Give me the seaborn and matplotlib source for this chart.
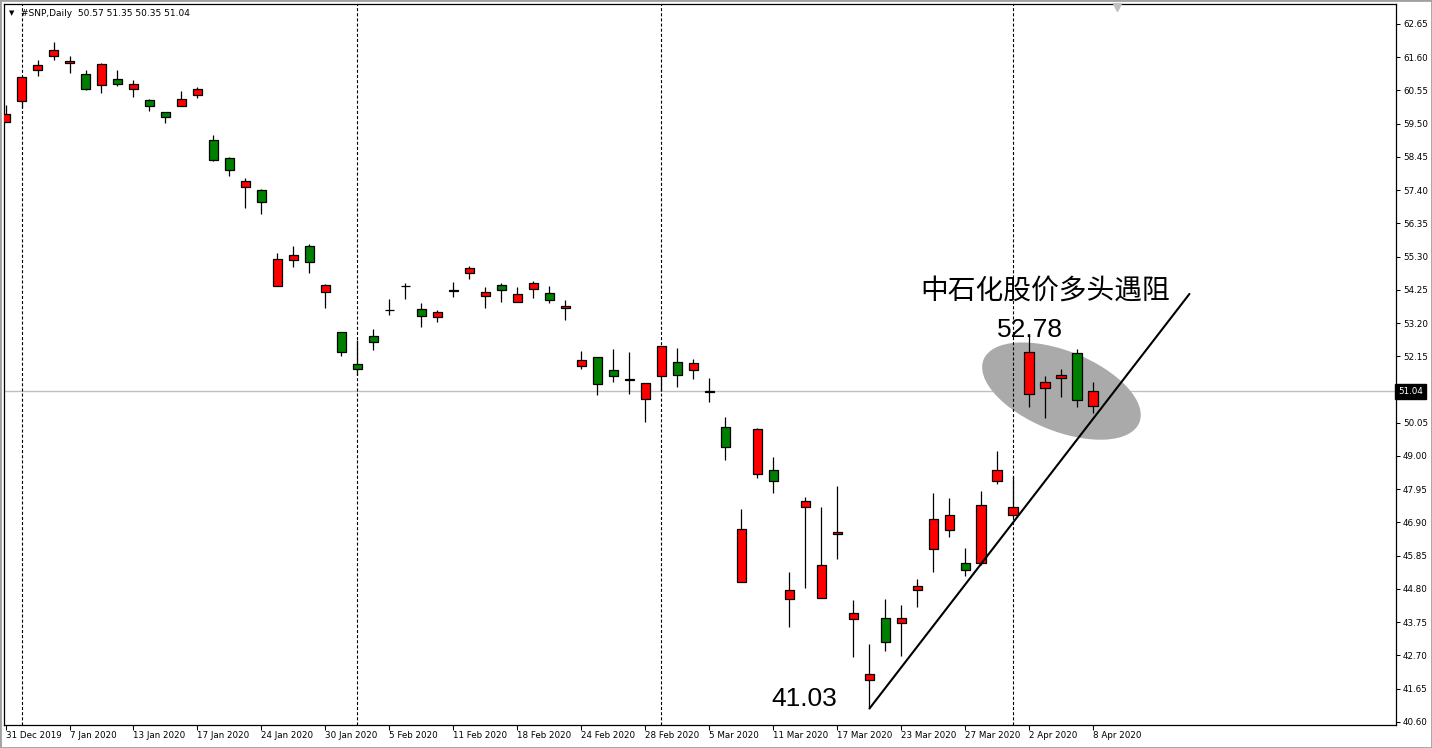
import numpy as np
import pandas as pd
import matplotlib.pyplot as plt
import matplotlib.transforms as mtransforms
from matplotlib.patches import Ellipse, Rectangle
import seaborn as sns

# daily candles for #SNP
dates = ['2019-12-31', '2020-01-02', '2020-01-03', '2020-01-06', '2020-01-07', '2020-01-08',
         '2020-01-09', '2020-01-10', '2020-01-13', '2020-01-14', '2020-01-15', '2020-01-16',
         '2020-01-17', '2020-01-21', '2020-01-22', '2020-01-23', '2020-01-24', '2020-01-27',
         '2020-01-28', '2020-01-29', '2020-01-30', '2020-01-31', '2020-02-03', '2020-02-04',
         '2020-02-05', '2020-02-06', '2020-02-07', '2020-02-10', '2020-02-11', '2020-02-12',
         '2020-02-13', '2020-02-14', '2020-02-18', '2020-02-19', '2020-02-20', '2020-02-21',
         '2020-02-24', '2020-02-25', '2020-02-26', '2020-02-27', '2020-02-28', '2020-03-02',
         '2020-03-03', '2020-03-04', '2020-03-05', '2020-03-06', '2020-03-09', '2020-03-10',
         '2020-03-11', '2020-03-12', '2020-03-13', '2020-03-16', '2020-03-17', '2020-03-18',
         '2020-03-19', '2020-03-20', '2020-03-23', '2020-03-24', '2020-03-25', '2020-03-26',
         '2020-03-27', '2020-03-30', '2020-03-31', '2020-04-01', '2020-04-02', '2020-04-03',
         '2020-04-06', '2020-04-07', '2020-04-08']
opens = [59.54, 60.21, 61.19, 61.63, 61.41, 61.07, 60.73, 60.91, 60.59, 60.25, 59.86, 60.07,
         60.42, 58.98, 58.41, 57.49, 57.40, 54.38, 55.20, 55.63, 54.17, 52.91, 51.90, 52.78,
         53.60, 54.37, 53.63, 53.40, 54.21, 54.77, 54.06, 54.39, 53.86, 54.27, 54.14, 53.68,
         51.83, 52.12, 51.71, 51.44, 50.79, 51.52, 51.96, 51.71, 51.05, 49.90, 45.02, 48.42,
         48.55, 44.47, 47.38, 44.52, 46.55, 43.84, 41.91, 43.87, 43.71, 44.75, 46.05, 46.65,
         45.61, 45.61, 48.20, 47.12, 50.95, 51.16, 51.45, 52.24, 50.57]
highs = [60.08, 60.99, 61.51, 62.08, 61.64, 61.20, 61.41, 61.20, 60.88, 60.28, 59.86, 60.53,
         60.65, 59.14, 58.45, 57.79, 57.42, 55.41, 55.63, 55.70, 54.43, 52.93, 52.66, 53.01,
         53.96, 54.47, 53.82, 53.60, 54.50, 55.00, 54.33, 54.46, 54.33, 54.53, 54.36, 53.92,
         52.31, 52.12, 52.38, 52.28, 51.30, 52.46, 52.41, 52.06, 51.45, 50.23, 47.32, 49.87,
         48.96, 45.32, 47.69, 47.38, 48.05, 44.45, 43.06, 44.48, 44.29, 45.11, 47.83, 47.67,
         46.09, 47.89, 49.16, 48.37, 52.78, 51.53, 51.75, 52.37, 51.35]
lows = [59.54, 59.99, 60.99, 61.51, 61.11, 60.57, 60.48, 60.69, 60.35, 59.91, 59.53, 60.07,
        60.31, 58.33, 57.86, 56.85, 56.66, 54.38, 54.98, 54.79, 53.68, 52.17, 51.56, 52.36,
        53.45, 53.97, 53.08, 53.24, 54.03, 54.60, 53.68, 53.87, 53.86, 54.00, 53.84, 53.31,
        51.76, 50.93, 51.35, 50.97, 50.08, 51.06, 51.19, 51.44, 50.71, 48.87, 45.02, 48.31,
        47.84, 43.60, 44.84, 44.52, 45.74, 42.65, 41.03, 42.84, 42.69, 44.23, 45.34, 46.45,
        45.21, 45.55, 48.13, 47.08, 50.56, 50.21, 50.87, 50.54, 50.35]
closes = [59.80, 60.97, 61.35, 61.82, 61.47, 60.61, 61.39, 60.76, 60.75, 60.05, 59.70, 60.28,
          60.60, 58.36, 58.03, 57.68, 57.02, 55.21, 55.34, 55.12, 54.39, 52.29, 51.74, 52.59,
          53.60, 54.37, 53.43, 53.54, 54.24, 54.93, 54.17, 54.23, 54.11, 54.46, 53.92, 53.75,
          52.02, 51.26, 51.54, 51.39, 51.30, 52.46, 51.55, 51.93, 51.02, 49.27, 46.68, 49.84,
          48.20, 44.78, 47.57, 45.54, 46.59, 44.03, 42.10, 43.11, 43.87, 44.88, 47.00, 47.15,
          45.39, 47.44, 48.55, 47.40, 52.28, 51.33, 51.56, 50.76, 51.04]

price_ticks = [40.60, 41.65, 42.70, 43.75, 44.80, 45.85, 46.90, 47.95, 49.00, 50.05,
               52.15, 53.20, 54.25, 55.30, 56.35, 57.40, 58.45, 59.50, 60.55, 61.60, 62.65]
last_price = 51.04
low_mark = 41.03
high_mark = 52.78
trend_x = [54, 74]
trend_y = [41.02, 54.12]
title = '中石化股价多头遇阻'

df = pd.DataFrame({'date': pd.to_datetime(dates), 'open': opens, 'high': highs,
                   'low': lows, 'close': closes})
df['idx'] = np.arange(len(df))

sns.set_style('white')
plt.rcParams['font.family'] = ['DejaVu Sans']
plt.rcParams['text.color'] = 'black'
plt.rcParams['lines.scale_dashes'] = False

W, H = 1432, 748
fig = plt.figure(figsize=(W / 100, H / 100), dpi=100)
ax = fig.add_axes([4 / W, 23 / H, 1392 / W, 721 / H])
ax.set_facecolor('white')

# grey "current price" line
ax.axhline(last_price, color='#c0c0c0', lw=1.0, zorder=1)

# grey ellipse around the last five candles (drawn in pixels around a data point)
ell_tr = fig.dpi_scale_trans + mtransforms.ScaledTranslation(66.0, 51.05, ax.transData)
ax.add_patch(Ellipse((0, 0), 1.68, 0.80, angle=-22, transform=ell_tr,
                     facecolor='#aaaaaa', edgecolor='none', zorder=2))

# month separators
first_of_month = df.index[df['date'].dt.month != df['date'].shift(1).dt.month][1:]
for i in first_of_month:
    ax.axvline(i, color='black', lw=0.8, linestyle=(0, (2.2, 1.5)), zorder=2.5)

# candles (red = up, green = down)
up = df['close'] > df['open']
down = df['close'] < df['open']
flat = df['close'] == df['open']
bw = 0.62
ax.vlines(df['idx'], df['low'], df['high'], color='black', lw=0.9, zorder=3)
ax.bar(df['idx'][up], (df['close'] - df['open'])[up], bottom=df['open'][up], width=bw,
       color='#ff0000', edgecolor='black', linewidth=0.9, zorder=4)
ax.bar(df['idx'][down], (df['open'] - df['close'])[down], bottom=df['close'][down], width=bw,
       color='#008000', edgecolor='black', linewidth=0.9, zorder=4)
ax.hlines(df['close'][flat], df['idx'][flat] - bw / 2, df['idx'][flat] + bw / 2,
          color='black', lw=0.9, zorder=4)

# trend line
sns.lineplot(x=trend_x, y=trend_y, ax=ax, color='black', lw=1.5, zorder=5)

# annotations
ax.text(65.0, 54.21, title, family=['Noto Sans CJK SC', 'DejaVu Sans'], fontsize=20,
        fontweight='light', color='black', ha='center', va='center', zorder=6)
ax.text(64.0, 52.98, f'{high_mark:.2f}', family='Liberation Sans', fontsize=19,
        color='black', ha='center', va='center', zorder=6)
ax.text(49.9, 41.32, f'{low_mark:.2f}', family='Liberation Sans', fontsize=19,
        color='black', ha='center', va='center', zorder=6)

# axes
ax.set_xlim(-0.094, 86.91)
ax.set_ylim(40.50, 63.28)
ax.yaxis.tick_right()
ax.set_yticks(price_ticks)
ax.set_yticklabels([f'{p:.2f}' for p in price_ticks])
xt = df['idx'][::4]
ax.set_xticks(xt)
ax.set_xticklabels([d.strftime('%-d %b %Y') for d in df['date'][::4]])
for lab in ax.get_xticklabels():
    lab.set_ha('left')
ax.tick_params(axis='y', right=True, left=False, length=3, width=0.75, pad=2,
               labelsize=6.3, direction='out', colors='black')
ax.tick_params(axis='x', bottom=True, length=3.5, width=0.75, pad=1,
               labelsize=6.3, direction='out', colors='black')
for s in ax.spines.values():
    s.set_visible(True)
    s.set_color('black')
    s.set_linewidth(0.9)
ax.set_xlabel('')
ax.set_ylabel('')

# last price tag on the right axis
tag_tr = mtransforms.blended_transform_factory(ax.transAxes, ax.transData)
ax.text(1.0015, last_price, f'{last_price:.2f}', transform=tag_tr, color='white',
        fontsize=6.3, va='center', ha='left', clip_on=False, zorder=7,
        bbox=dict(boxstyle='square,pad=0.3', fc='black', ec='black'))

# chart shift marker at the top
top_tr = mtransforms.blended_transform_factory(ax.transData, ax.transAxes)
ax.plot([69.5], [0.996], marker='v', markersize=6, color='#c0c0c0', transform=top_tr,
        clip_on=False, zorder=7)

# header
fig.text(12 / W, 1 - 13 / H, '▼', fontsize=5, va='center', ha='center', color='black')
fig.text(21 / W, 1 - 13 / H, '#SNP,Daily  50.57 51.35 50.35 51.04', fontsize=6.5,
         va='center', ha='left', color='black')

# outer window frame
fig.add_artist(Rectangle((0, 0), 1, 1, transform=fig.transFigure, fill=False,
                         edgecolor='#a0a0a0', lw=2.0))

fig.savefig('out.png', dpi=100, facecolor='white')
